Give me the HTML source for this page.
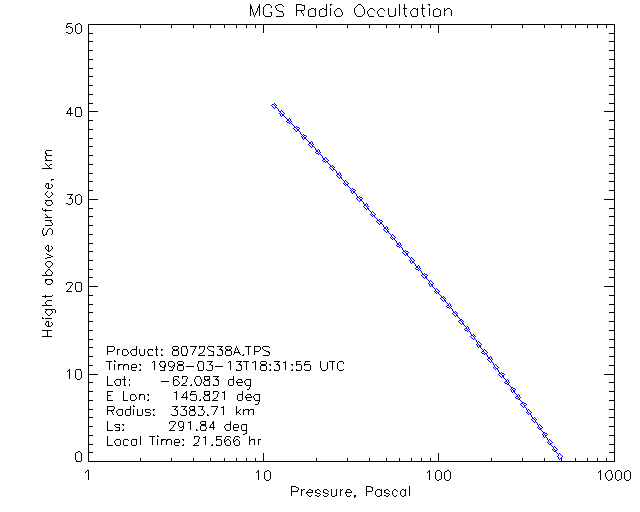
<!DOCTYPE html>
<html lang="en"><head><meta charset="utf-8"><title>MGS Radio Occultation</title>
<style>html,body{margin:0;padding:0;background:#fff;width:640px;height:512px;overflow:hidden;font-family:"Liberation Sans",sans-serif}svg{display:block}</style></head><body>
<svg width="640" height="512" viewBox="0 0 640 512" shape-rendering="crispEdges" role="img" aria-label="MGS Radio Occultation: height above surface versus pressure">
<rect width="640" height="512" fill="#fff"/>
<g id="axes" fill="#000"><title>Plot frame with log pressure axis (1-1000 Pa) and height axis (0-50 km)</title><path d="M88 24h527v1h-527zM88 25h1v8h-1zM140 25h1v3h-1zM171 25h1v3h-1zM193 25h1v3h-1zM210 25h1v3h-1zM224 25h1v3h-1zM236 25h1v3h-1zM246 25h1v3h-1zM255 25h1v3h-1zM263 25h1v8h-1zM316 25h1v3h-1zM347 25h1v3h-1zM369 25h1v3h-1zM386 25h1v3h-1zM399 25h1v3h-1zM411 25h1v3h-1zM421 25h1v3h-1zM430 25h1v3h-1zM438 25h1v8h-1zM491 25h1v3h-1zM522 25h1v3h-1zM544 25h1v3h-1zM561 25h1v3h-1zM575 25h1v3h-1zM587 25h1v3h-1zM597 25h1v3h-1zM606 25h1v3h-1zM614 25h1v8h-1zM88 33h5v1h-5zM609 33h6v1h-6zM88 34h1v7h-1zM614 34h1v7h-1zM88 41h5v1h-5zM609 41h6v1h-6zM88 42h1v8h-1zM614 42h1v8h-1zM88 50h5v1h-5zM609 50h6v1h-6zM88 51h1v8h-1zM614 51h1v8h-1zM88 59h5v1h-5zM609 59h6v1h-6zM88 60h1v8h-1zM614 60h1v8h-1zM88 68h5v1h-5zM609 68h6v1h-6zM88 69h1v7h-1zM614 69h1v7h-1zM88 76h5v1h-5zM609 76h6v1h-6zM88 77h1v8h-1zM614 77h1v8h-1zM88 85h5v1h-5zM609 85h6v1h-6zM88 86h1v8h-1zM614 86h1v8h-1zM88 94h5v1h-5zM609 94h6v1h-6zM88 95h1v8h-1zM614 95h1v8h-1zM88 103h5v1h-5zM609 103h6v1h-6zM88 104h1v7h-1zM614 104h1v7h-1zM88 111h10v1h-10zM604 111h11v1h-11zM88 112h1v8h-1zM614 112h1v8h-1zM88 120h5v1h-5zM609 120h6v1h-6zM88 121h1v8h-1zM614 121h1v8h-1zM88 129h5v1h-5zM609 129h6v1h-6zM88 130h1v8h-1zM614 130h1v8h-1zM88 138h5v1h-5zM609 138h6v1h-6zM88 139h1v7h-1zM614 139h1v7h-1zM88 146h5v1h-5zM609 146h6v1h-6zM88 147h1v8h-1zM614 147h1v8h-1zM88 155h5v1h-5zM609 155h6v1h-6zM88 156h1v8h-1zM614 156h1v8h-1zM88 164h5v1h-5zM609 164h6v1h-6zM88 165h1v8h-1zM614 165h1v8h-1zM88 173h5v1h-5zM609 173h6v1h-6zM88 174h1v7h-1zM614 174h1v7h-1zM88 181h5v1h-5zM609 181h6v1h-6zM88 182h1v8h-1zM614 182h1v8h-1zM88 190h5v1h-5zM609 190h6v1h-6zM88 191h1v8h-1zM614 191h1v8h-1zM88 199h10v1h-10zM604 199h11v1h-11zM88 200h1v8h-1zM614 200h1v8h-1zM88 208h5v1h-5zM609 208h6v1h-6zM88 209h1v7h-1zM614 209h1v7h-1zM88 216h5v1h-5zM609 216h6v1h-6zM88 217h1v8h-1zM614 217h1v8h-1zM88 225h5v1h-5zM609 225h6v1h-6zM88 226h1v8h-1zM614 226h1v8h-1zM88 234h5v1h-5zM609 234h6v1h-6zM88 235h1v8h-1zM614 235h1v8h-1zM88 243h5v1h-5zM609 243h6v1h-6zM88 244h1v7h-1zM614 244h1v7h-1zM88 251h5v1h-5zM609 251h6v1h-6zM88 252h1v8h-1zM614 252h1v8h-1zM88 260h5v1h-5zM609 260h6v1h-6zM88 261h1v8h-1zM614 261h1v8h-1zM88 269h5v1h-5zM609 269h6v1h-6zM88 270h1v7h-1zM614 270h1v7h-1zM88 277h5v1h-5zM609 277h6v1h-6zM88 278h1v8h-1zM614 278h1v8h-1zM88 286h10v1h-10zM604 286h11v1h-11zM88 287h1v8h-1zM614 287h1v8h-1zM88 295h5v1h-5zM609 295h6v1h-6zM88 296h1v8h-1zM614 296h1v8h-1zM88 304h5v1h-5zM609 304h6v1h-6zM88 305h1v7h-1zM614 305h1v7h-1zM88 312h5v1h-5zM609 312h6v1h-6zM88 313h1v8h-1zM614 313h1v8h-1zM88 321h5v1h-5zM609 321h6v1h-6zM88 322h1v8h-1zM614 322h1v8h-1zM88 330h5v1h-5zM609 330h6v1h-6zM88 331h1v8h-1zM614 331h1v8h-1zM88 339h5v1h-5zM609 339h6v1h-6zM88 340h1v7h-1zM614 340h1v7h-1zM88 347h5v1h-5zM609 347h6v1h-6zM88 348h1v8h-1zM614 348h1v8h-1zM88 356h5v1h-5zM609 356h6v1h-6zM88 357h1v8h-1zM614 357h1v8h-1zM88 365h5v1h-5zM609 365h6v1h-6zM88 366h1v8h-1zM614 366h1v8h-1zM88 374h10v1h-10zM604 374h11v1h-11zM88 375h1v7h-1zM614 375h1v7h-1zM88 382h5v1h-5zM609 382h6v1h-6zM88 383h1v8h-1zM614 383h1v8h-1zM88 391h5v1h-5zM609 391h6v1h-6zM88 392h1v8h-1zM614 392h1v8h-1zM88 400h5v1h-5zM609 400h6v1h-6zM88 401h1v8h-1zM614 401h1v8h-1zM88 409h5v1h-5zM609 409h6v1h-6zM88 410h1v7h-1zM614 410h1v7h-1zM88 417h5v1h-5zM609 417h6v1h-6zM88 418h1v8h-1zM614 418h1v8h-1zM88 426h5v1h-5zM609 426h6v1h-6zM88 427h1v8h-1zM614 427h1v8h-1zM88 435h5v1h-5zM609 435h6v1h-6zM88 436h1v8h-1zM614 436h1v8h-1zM88 444h5v1h-5zM609 444h6v1h-6zM88 445h1v7h-1zM614 445h1v7h-1zM88 452h5v1h-5zM609 452h6v1h-6zM88 453h1v8h-1zM263 453h1v8h-1zM438 453h1v8h-1zM614 453h1v8h-1zM140 458h1v3h-1zM171 458h1v3h-1zM193 458h1v3h-1zM210 458h1v3h-1zM224 458h1v3h-1zM236 458h1v3h-1zM246 458h1v3h-1zM255 458h1v3h-1zM316 458h1v3h-1zM347 458h1v3h-1zM369 458h1v3h-1zM386 458h1v3h-1zM399 458h1v3h-1zM411 458h1v3h-1zM421 458h1v3h-1zM430 458h1v3h-1zM491 458h1v3h-1zM522 458h1v3h-1zM544 458h1v3h-1zM561 458h1v3h-1zM575 458h1v3h-1zM587 458h1v3h-1zM597 458h1v3h-1zM606 458h1v3h-1zM88 461h527v1h-527z"/></g>
<g id="profile" fill="#00f"><title>Pressure profile (diamond markers)</title><path d="M274 103h1v1h-1zM272 104h2v1h-2zM275 104h1v1h-1zM271 105h1v1h-1zM274 105h1v1h-1zM276 105h1v1h-1zM272 106h1v1h-1zM275 106h1v1h-1zM273 107h1v1h-1zM275 107h2v1h-2zM274 108h1v1h-1zM277 108h1v1h-1zM278 109h1v2h-1zM281 110h1v1h-1zM279 111h2v1h-2zM282 111h1v1h-1zM280 112h1v1h-1zM283 112h1v1h-1zM279 113h1v1h-1zM281 113h1v1h-1zM284 113h1v1h-1zM280 114h1v2h-1zM282 114h2v2h-2zM281 116h1v1h-1zM284 116h1v1h-1zM285 117h1v1h-1zM286 118h1v1h-1zM289 118h1v1h-1zM287 119h2v2h-2zM290 119h1v2h-1zM286 121h1v1h-1zM289 121h1v1h-1zM291 121h1v1h-1zM287 122h2v1h-2zM290 122h1v1h-1zM289 123h1v1h-1zM291 123h1v1h-1zM292 124h1v1h-1zM293 125h1v1h-1zM294 126h1v1h-1zM296 126h1v1h-1zM294 127h2v1h-2zM297 127h2v1h-2zM293 128h1v1h-1zM296 128h1v1h-1zM299 128h1v1h-1zM294 129h1v1h-1zM297 129h2v2h-2zM295 130h1v1h-1zM296 131h1v1h-1zM299 131h1v1h-1zM300 132h1v2h-1zM301 134h1v1h-1zM303 134h1v1h-1zM302 135h1v1h-1zM304 135h2v1h-2zM301 136h1v1h-1zM303 136h1v1h-1zM306 136h1v1h-1zM302 137h1v2h-1zM304 137h2v2h-2zM303 139h1v1h-1zM306 139h1v1h-1zM307 140h1v1h-1zM308 141h1v1h-1zM311 141h1v1h-1zM309 142h2v2h-2zM312 142h1v2h-1zM308 144h1v1h-1zM311 144h1v1h-1zM313 144h1v1h-1zM309 145h1v1h-1zM312 145h1v1h-1zM310 146h1v1h-1zM312 146h2v1h-2zM311 147h1v1h-1zM314 147h1v1h-1zM315 148h1v2h-1zM318 149h1v1h-1zM316 150h2v2h-2zM319 150h1v2h-1zM315 152h1v1h-1zM318 152h1v1h-1zM320 152h1v1h-1zM316 153h2v1h-2zM319 153h1v1h-1zM318 154h1v1h-1zM320 154h1v1h-1zM321 155h1v1h-1zM322 156h1v2h-1zM325 157h1v1h-1zM323 158h2v2h-2zM326 158h1v1h-1zM327 159h1v1h-1zM322 160h1v1h-1zM325 160h1v1h-1zM328 160h1v1h-1zM323 161h2v1h-2zM326 161h2v1h-2zM325 162h1v1h-1zM327 162h1v1h-1zM328 163h1v1h-1zM329 164h1v1h-1zM330 165h1v1h-1zM332 165h1v1h-1zM330 166h2v1h-2zM333 166h1v1h-1zM329 167h1v1h-1zM332 167h1v1h-1zM334 167h1v1h-1zM330 168h1v1h-1zM333 168h1v1h-1zM331 169h1v1h-1zM333 169h2v1h-2zM332 170h1v1h-1zM335 170h1v1h-1zM336 171h1v2h-1zM339 172h1v1h-1zM337 173h2v2h-2zM340 173h1v2h-1zM336 175h1v1h-1zM339 175h1v1h-1zM341 175h1v1h-1zM337 176h1v1h-1zM340 176h1v1h-1zM338 177h1v1h-1zM340 177h2v1h-2zM339 178h1v1h-1zM341 178h1v1h-1zM342 179h1v1h-1zM343 180h1v1h-1zM345 180h1v1h-1zM344 181h1v2h-1zM346 181h1v1h-1zM347 182h1v1h-1zM343 183h1v1h-1zM345 183h1v1h-1zM348 183h1v1h-1zM344 184h1v1h-1zM346 184h2v1h-2zM345 185h1v1h-1zM347 185h1v1h-1zM348 186h1v1h-1zM349 187h1v1h-1zM350 188h1v1h-1zM352 188h1v1h-1zM351 189h1v1h-1zM353 189h2v1h-2zM350 190h1v1h-1zM352 190h1v1h-1zM355 190h1v1h-1zM351 191h1v2h-1zM353 191h2v2h-2zM352 193h1v1h-1zM355 193h1v1h-1zM356 194h1v2h-1zM357 196h1v1h-1zM359 196h1v1h-1zM357 197h2v1h-2zM360 197h2v1h-2zM356 198h1v1h-1zM359 198h1v1h-1zM362 198h1v1h-1zM357 199h1v1h-1zM360 199h2v2h-2zM358 200h1v1h-1zM359 201h1v1h-1zM362 201h1v1h-1zM363 202h1v2h-1zM366 203h1v1h-1zM364 204h2v2h-2zM367 204h1v2h-1zM363 206h1v1h-1zM366 206h1v1h-1zM368 206h1v1h-1zM364 207h1v1h-1zM367 207h1v1h-1zM365 208h1v1h-1zM367 208h2v1h-2zM366 209h1v1h-1zM368 209h1v1h-1zM369 210h1v1h-1zM370 211h1v1h-1zM372 211h1v1h-1zM371 212h1v2h-1zM373 212h1v1h-1zM374 213h1v1h-1zM370 214h1v1h-1zM372 214h1v1h-1zM375 214h1v1h-1zM371 215h1v1h-1zM373 215h2v1h-2zM372 216h1v1h-1zM374 216h1v1h-1zM375 217h1v1h-1zM376 218h1v1h-1zM377 219h1v1h-1zM379 219h1v1h-1zM377 220h2v1h-2zM380 220h2v1h-2zM376 221h1v1h-1zM379 221h1v1h-1zM382 221h1v1h-1zM377 222h1v1h-1zM380 222h2v2h-2zM378 223h1v1h-1zM379 224h1v1h-1zM382 224h1v1h-1zM383 225h1v2h-1zM386 226h1v1h-1zM384 227h2v2h-2zM387 227h1v2h-1zM383 229h1v1h-1zM386 229h1v1h-1zM388 229h1v1h-1zM384 230h1v1h-1zM387 230h1v1h-1zM385 231h1v1h-1zM387 231h2v1h-2zM386 232h1v1h-1zM388 232h1v1h-1zM389 233h1v1h-1zM390 234h1v1h-1zM392 234h1v1h-1zM391 235h1v2h-1zM393 235h1v1h-1zM394 236h1v1h-1zM390 237h1v1h-1zM392 237h1v1h-1zM395 237h1v1h-1zM391 238h1v1h-1zM393 238h2v1h-2zM392 239h1v1h-1zM394 239h1v1h-1zM395 240h1v1h-1zM396 241h1v2h-1zM399 242h1v1h-1zM397 243h2v2h-2zM400 243h1v2h-1zM396 245h1v1h-1zM399 245h1v1h-1zM401 245h1v1h-1zM397 246h2v1h-2zM400 246h1v1h-1zM399 247h1v1h-1zM401 247h1v1h-1zM402 248h1v2h-1zM403 250h1v1h-1zM405 250h1v1h-1zM403 251h2v1h-2zM406 251h2v1h-2zM402 252h1v1h-1zM405 252h1v1h-1zM408 252h1v1h-1zM403 253h1v1h-1zM406 253h2v2h-2zM404 254h1v1h-1zM405 255h1v1h-1zM407 255h1v1h-1zM408 256h1v1h-1zM409 257h1v1h-1zM411 257h1v1h-1zM410 258h1v2h-1zM412 258h1v1h-1zM413 259h1v1h-1zM409 260h1v1h-1zM411 260h1v1h-1zM414 260h1v1h-1zM410 261h1v2h-1zM412 261h2v2h-2zM411 263h1v1h-1zM414 263h1v1h-1zM415 264h1v2h-1zM418 265h1v1h-1zM416 266h2v2h-2zM419 266h1v2h-1zM415 268h1v1h-1zM418 268h1v1h-1zM420 268h1v1h-1zM416 269h2v1h-2zM419 269h1v1h-1zM418 270h1v1h-1zM420 270h1v1h-1zM421 271h1v2h-1zM422 273h1v1h-1zM424 273h1v1h-1zM422 274h2v1h-2zM425 274h2v1h-2zM421 275h1v1h-1zM424 275h1v1h-1zM427 275h1v1h-1zM422 276h1v1h-1zM425 276h2v2h-2zM423 277h1v1h-1zM424 278h1v1h-1zM426 278h1v1h-1zM427 279h1v1h-1zM428 280h1v1h-1zM430 280h1v1h-1zM429 281h1v2h-1zM431 281h1v1h-1zM432 282h1v1h-1zM428 283h1v1h-1zM430 283h1v1h-1zM433 283h1v1h-1zM429 284h1v2h-1zM431 284h2v2h-2zM430 286h1v1h-1zM432 286h1v1h-1zM433 287h1v1h-1zM434 288h1v1h-1zM436 288h1v1h-1zM435 289h1v2h-1zM437 289h1v1h-1zM438 290h1v1h-1zM434 291h1v1h-1zM436 291h1v1h-1zM439 291h1v1h-1zM435 292h1v1h-1zM437 292h2v1h-2zM436 293h1v1h-1zM438 293h1v1h-1zM439 294h1v1h-1zM440 295h1v1h-1zM441 296h1v1h-1zM443 296h1v1h-1zM441 297h2v1h-2zM444 297h1v1h-1zM440 298h1v1h-1zM443 298h1v1h-1zM445 298h1v1h-1zM441 299h1v1h-1zM444 299h1v1h-1zM442 300h1v1h-1zM444 300h2v1h-2zM443 301h1v1h-1zM445 301h1v1h-1zM446 302h1v1h-1zM447 303h1v1h-1zM449 303h1v1h-1zM448 304h1v1h-1zM450 304h1v2h-1zM447 305h2v1h-2zM446 306h1v1h-1zM449 306h1v1h-1zM451 306h1v1h-1zM447 307h2v1h-2zM450 307h1v1h-1zM449 308h1v1h-1zM451 308h1v1h-1zM452 309h1v2h-1zM453 311h1v1h-1zM455 311h1v1h-1zM453 312h2v1h-2zM456 312h1v1h-1zM452 313h1v1h-1zM455 313h1v1h-1zM457 313h1v1h-1zM453 314h1v1h-1zM456 314h1v1h-1zM454 315h1v1h-1zM456 315h2v1h-2zM455 316h1v1h-1zM457 316h1v1h-1zM458 317h1v1h-1zM459 318h1v1h-1zM460 319h2v1h-2zM459 320h2v1h-2zM462 320h1v1h-1zM458 321h1v1h-1zM461 321h1v1h-1zM463 321h1v1h-1zM459 322h1v1h-1zM462 322h1v1h-1zM460 323h1v1h-1zM462 323h2v1h-2zM461 324h1v1h-1zM463 324h1v1h-1zM464 325h1v1h-1zM465 326h1v1h-1zM467 326h1v1h-1zM466 327h1v1h-1zM468 327h1v2h-1zM465 328h2v1h-2zM464 329h1v1h-1zM467 329h1v1h-1zM469 329h1v1h-1zM465 330h2v1h-2zM468 330h1v1h-1zM467 331h1v1h-1zM469 331h1v1h-1zM470 332h1v2h-1zM471 334h1v1h-1zM473 334h1v1h-1zM471 335h2v1h-2zM474 335h1v1h-1zM470 336h1v1h-1zM473 336h1v1h-1zM475 336h1v1h-1zM471 337h1v1h-1zM474 337h1v2h-1zM472 338h1v1h-1zM473 339h1v1h-1zM475 339h1v1h-1zM476 340h1v2h-1zM478 341h1v1h-1zM477 342h1v2h-1zM479 342h1v1h-1zM480 343h1v1h-1zM476 344h1v1h-1zM478 344h1v1h-1zM481 344h1v1h-1zM477 345h1v2h-1zM479 345h2v2h-2zM478 347h1v1h-1zM480 347h1v1h-1zM481 348h1v1h-1zM482 349h1v1h-1zM484 349h1v1h-1zM483 350h1v1h-1zM485 350h1v1h-1zM482 351h2v1h-2zM486 351h1v1h-1zM481 352h1v1h-1zM484 352h1v1h-1zM487 352h1v1h-1zM482 353h2v1h-2zM485 353h2v1h-2zM484 354h1v1h-1zM486 354h1v1h-1zM487 355h1v2h-1zM490 356h1v1h-1zM488 357h2v2h-2zM491 357h1v2h-1zM487 359h1v1h-1zM490 359h1v1h-1zM492 359h1v1h-1zM488 360h1v1h-1zM491 360h1v2h-1zM489 361h1v1h-1zM490 362h1v1h-1zM492 362h1v1h-1zM493 363h1v2h-1zM495 364h1v1h-1zM494 365h1v2h-1zM496 365h1v1h-1zM497 366h1v1h-1zM493 367h1v1h-1zM495 367h1v1h-1zM498 367h1v1h-1zM494 368h1v1h-1zM496 368h2v1h-2zM495 369h1v1h-1zM497 369h1v1h-1zM498 370h1v2h-1zM499 372h1v1h-1zM501 372h1v1h-1zM499 373h2v1h-2zM502 373h2v1h-2zM498 374h1v1h-1zM501 374h1v1h-1zM504 374h1v1h-1zM499 375h1v1h-1zM502 375h2v2h-2zM500 376h1v1h-1zM501 377h1v1h-1zM503 377h1v1h-1zM504 378h1v1h-1zM505 379h1v1h-1zM507 379h1v1h-1zM506 380h1v1h-1zM508 380h1v2h-1zM505 381h2v1h-2zM504 382h1v1h-1zM507 382h1v1h-1zM509 382h1v1h-1zM505 383h2v1h-2zM508 383h1v1h-1zM507 384h2v1h-2zM509 385h1v1h-1zM510 386h1v1h-1zM511 387h2v1h-2zM511 388h1v1h-1zM513 388h2v1h-2zM510 389h1v1h-1zM512 389h1v1h-1zM515 389h1v1h-1zM511 390h1v2h-1zM513 390h2v2h-2zM512 392h1v1h-1zM514 392h1v1h-1zM515 393h1v1h-1zM516 394h1v1h-1zM518 394h1v1h-1zM517 395h1v1h-1zM519 395h1v2h-1zM516 396h2v1h-2zM515 397h1v1h-1zM518 397h1v1h-1zM520 397h1v1h-1zM516 398h2v1h-2zM519 398h1v1h-1zM518 399h2v1h-2zM520 400h1v1h-1zM521 401h1v1h-1zM522 402h2v1h-2zM521 403h2v1h-2zM524 403h2v1h-2zM520 404h1v1h-1zM523 404h1v1h-1zM526 404h1v1h-1zM521 405h1v1h-1zM524 405h2v1h-2zM522 406h1v1h-1zM524 406h1v1h-1zM523 407h1v1h-1zM525 407h1v1h-1zM526 408h1v2h-1zM528 409h1v1h-1zM527 410h1v2h-1zM529 410h1v1h-1zM530 411h1v1h-1zM526 412h1v1h-1zM528 412h1v1h-1zM531 412h1v1h-1zM527 413h1v1h-1zM529 413h2v1h-2zM528 414h1v1h-1zM530 414h1v1h-1zM531 415h1v2h-1zM532 417h1v1h-1zM534 417h1v1h-1zM532 418h2v1h-2zM535 418h1v1h-1zM531 419h1v1h-1zM534 419h1v1h-1zM536 419h1v1h-1zM532 420h1v1h-1zM535 420h1v2h-1zM533 421h1v1h-1zM534 422h1v1h-1zM536 422h1v1h-1zM537 423h1v2h-1zM539 424h1v1h-1zM538 425h1v2h-1zM540 425h1v1h-1zM541 426h1v1h-1zM537 427h1v1h-1zM539 427h1v1h-1zM542 427h1v1h-1zM538 428h1v1h-1zM540 428h2v1h-2zM539 429h2v1h-2zM541 430h1v1h-1zM542 431h1v1h-1zM543 432h2v1h-2zM543 433h1v1h-1zM545 433h2v1h-2zM542 434h1v1h-1zM544 434h1v1h-1zM547 434h1v1h-1zM543 435h1v2h-1zM545 435h2v1h-2zM545 436h1v1h-1zM544 437h1v1h-1zM546 437h1v1h-1zM547 438h1v2h-1zM549 439h1v1h-1zM548 440h1v2h-1zM550 440h1v1h-1zM551 441h1v1h-1zM547 442h1v1h-1zM549 442h1v1h-1zM552 442h1v1h-1zM548 443h1v1h-1zM550 443h2v1h-2zM549 444h2v1h-2zM551 445h1v1h-1zM552 446h1v1h-1zM554 446h1v1h-1zM553 447h1v2h-1zM555 447h1v1h-1zM556 448h1v1h-1zM552 449h1v1h-1zM554 449h1v1h-1zM557 449h1v1h-1zM553 450h1v1h-1zM555 450h2v1h-2zM554 451h2v1h-2zM556 452h1v1h-1zM557 453h1v1h-1zM559 453h1v1h-1zM558 454h1v2h-1zM560 454h1v1h-1zM561 455h1v1h-1zM557 456h1v1h-1zM562 456h1v1h-1zM558 457h1v2h-1zM561 457h1v1h-1zM560 458h1v1h-1zM559 459h1v1h-1z"/></g>
<g id="title" fill="#000"><title>MGS Radio Occultation</title><path d="M250 4h1v2h-1zM259 4h1v2h-1zM266 4h4v1h-4zM278 4h4v1h-4zM296 4h6v1h-6zM326 4h1v5h-1zM330 4h2v1h-2zM358 4h3v1h-3zM399 4h1v12h-1zM404 4h1v4h-1zM422 4h1v4h-1zM428 4h2v1h-2zM265 5h1v1h-1zM270 5h1v1h-1zM276 5h2v1h-2zM282 5h1v1h-1zM296 5h1v5h-1zM302 5h3v1h-3zM330 5h1v1h-1zM357 5h1v1h-1zM361 5h1v1h-1zM429 5h1v1h-1zM250 6h2v3h-2zM258 6h2v2h-2zM264 6h1v1h-1zM271 6h1v2h-1zM275 6h1v2h-1zM283 6h1v1h-1zM304 6h1v4h-1zM356 6h1v1h-1zM362 6h1v1h-1zM263 7h1v8h-1zM355 7h1v1h-1zM363 7h1v2h-1zM257 8h1v3h-1zM259 8h1v8h-1zM276 8h1v2h-1zM311 8h3v1h-3zM315 8h1v1h-1zM322 8h2v1h-2zM330 8h1v8h-1zM337 8h3v1h-3zM354 8h1v5h-1zM370 8h3v1h-3zM380 8h3v1h-3zM388 8h1v7h-1zM395 8h1v7h-1zM403 8h4v1h-4zM413 8h3v1h-3zM417 8h1v1h-1zM421 8h4v1h-4zM429 8h1v8h-1zM436 8h2v1h-2zM444 8h1v2h-1zM447 8h3v1h-3zM250 9h1v7h-1zM252 9h1v3h-1zM309 9h2v1h-2zM314 9h2v1h-2zM320 9h2v1h-2zM324 9h3v1h-3zM336 9h1v1h-1zM340 9h1v1h-1zM364 9h1v5h-1zM369 9h1v1h-1zM373 9h1v1h-1zM379 9h1v1h-1zM383 9h1v1h-1zM404 9h1v6h-1zM412 9h1v1h-1zM416 9h2v1h-2zM422 9h1v6h-1zM434 9h2v1h-2zM438 9h2v1h-2zM446 9h1v1h-1zM450 9h1v1h-1zM277 10h2v1h-2zM296 10h8v1h-8zM308 10h1v6h-1zM315 10h1v6h-1zM319 10h1v6h-1zM326 10h1v5h-1zM335 10h1v1h-1zM341 10h1v2h-1zM368 10h1v1h-1zM374 10h1v1h-1zM378 10h1v1h-1zM384 10h1v1h-1zM411 10h1v1h-1zM417 10h1v6h-1zM433 10h1v6h-1zM440 10h1v5h-1zM444 10h2v1h-2zM451 10h1v6h-1zM256 11h1v2h-1zM279 11h4v1h-4zM296 11h1v5h-1zM301 11h1v2h-1zM334 11h1v3h-1zM367 11h1v3h-1zM377 11h1v3h-1zM410 11h1v3h-1zM444 11h1v5h-1zM253 12h1v3h-1zM270 12h2v1h-2zM282 12h1v1h-1zM342 12h1v3h-1zM255 13h1v2h-1zM271 13h1v3h-1zM283 13h1v3h-1zM302 13h1v1h-1zM355 13h1v2h-1zM303 14h1v2h-1zM335 14h1v2h-1zM363 14h1v1h-1zM368 14h1v2h-1zM378 14h1v2h-1zM411 14h1v2h-1zM254 15h1v2h-1zM264 15h1v1h-1zM325 15h2v1h-2zM341 15h1v1h-1zM356 15h1v1h-1zM362 15h1v1h-1zM389 15h1v1h-1zM394 15h2v1h-2zM405 15h1v1h-1zM423 15h1v1h-1zM439 15h2v1h-2zM265 16h6v1h-6zM276 16h7v1h-7zM309 16h6v1h-6zM320 16h5v1h-5zM336 16h5v1h-5zM357 16h5v1h-5zM369 16h5v1h-5zM379 16h5v1h-5zM389 16h5v1h-5zM405 16h2v1h-2zM412 16h5v1h-5zM423 16h2v1h-2zM434 16h5v1h-5z"/></g>
<g id="xtitle" fill="#000"><title>Pressure, Pascal</title><path d="M291 486h5v1h-5zM366 486h5v1h-5zM409 486h1v10h-1zM291 487h1v4h-1zM296 487h2v1h-2zM366 487h1v4h-1zM371 487h2v1h-2zM298 488h1v2h-1zM372 488h1v3h-1zM301 489h1v1h-1zM303 489h2v1h-2zM309 489h2v1h-2zM317 489h2v1h-2zM324 489h3v1h-3zM331 489h1v7h-1zM336 489h1v6h-1zM340 489h1v1h-1zM342 489h1v1h-1zM347 489h3v1h-3zM377 489h3v1h-3zM381 489h1v1h-1zM386 489h2v1h-2zM394 489h2v1h-2zM402 489h2v1h-2zM405 489h1v1h-1zM297 490h1v1h-1zM301 490h2v1h-2zM308 490h1v1h-1zM311 490h2v1h-2zM315 490h2v1h-2zM319 490h1v1h-1zM323 490h1v2h-1zM327 490h1v1h-1zM340 490h2v1h-2zM346 490h1v2h-1zM350 490h1v1h-1zM376 490h1v1h-1zM380 490h2v1h-2zM384 490h2v1h-2zM388 490h1v1h-1zM393 490h1v1h-1zM396 490h1v1h-1zM401 490h1v1h-1zM404 490h2v1h-2zM291 491h7v1h-7zM301 491h1v5h-1zM307 491h1v1h-1zM312 491h1v1h-1zM315 491h1v1h-1zM320 491h1v1h-1zM328 491h1v1h-1zM340 491h1v5h-1zM351 491h1v1h-1zM366 491h6v1h-6zM375 491h1v4h-1zM381 491h1v4h-1zM384 491h1v1h-1zM389 491h1v1h-1zM392 491h1v4h-1zM397 491h1v1h-1zM400 491h1v4h-1zM405 491h1v4h-1zM291 492h1v4h-1zM306 492h7v1h-7zM315 492h2v1h-2zM323 492h2v1h-2zM345 492h7v1h-7zM366 492h1v4h-1zM384 492h2v1h-2zM306 493h1v1h-1zM317 493h3v1h-3zM325 493h3v1h-3zM345 493h1v1h-1zM386 493h3v1h-3zM307 494h1v1h-1zM320 494h1v1h-1zM328 494h1v1h-1zM346 494h1v2h-1zM389 494h1v1h-1zM308 495h1v1h-1zM311 495h1v1h-1zM315 495h2v1h-2zM319 495h1v1h-1zM323 495h1v1h-1zM327 495h1v1h-1zM335 495h2v1h-2zM350 495h1v1h-1zM354 495h2v2h-2zM376 495h1v1h-1zM380 495h2v1h-2zM384 495h2v1h-2zM388 495h1v1h-1zM393 495h1v1h-1zM396 495h1v1h-1zM401 495h1v1h-1zM404 495h2v1h-2zM309 496h2v1h-2zM317 496h2v1h-2zM324 496h3v1h-3zM332 496h3v1h-3zM347 496h3v1h-3zM377 496h3v1h-3zM386 496h2v1h-2zM394 496h2v1h-2zM402 496h2v1h-2zM354 497h1v1h-1z"/></g>
<g id="ytitle" fill="#000"><title>Height above Surface, km</title><path d="M46 150h6v1h-6zM45 151h1v2h-1zM45 153h2v1h-2zM46 154h1v1h-1zM46 155h6v1h-6zM45 156h1v3h-1zM46 159h1v1h-1zM45 160h7v1h-7zM45 163h1v1h-1zM46 164h1v1h-1zM50 164h2v1h-2zM47 165h1v1h-1zM49 165h1v1h-1zM48 166h1v1h-1zM49 167h1v1h-1zM42 168h10v1h-10zM51 179h3v1h-3zM51 180h1v1h-1zM46 183h3v1h-3zM46 184h1v1h-1zM48 184h1v4h-1zM51 184h1v1h-1zM45 185h1v2h-1zM52 185h1v2h-1zM46 187h1v1h-1zM51 187h1v1h-1zM47 188h4v1h-4zM47 191h1v1h-1zM46 192h1v1h-1zM51 192h1v1h-1zM45 193h1v2h-1zM52 193h1v2h-1zM46 195h1v1h-1zM51 195h1v1h-1zM47 196h1v1h-1zM50 196h1v1h-1zM48 197h2v1h-2zM45 200h7v1h-7zM46 201h1v1h-1zM51 201h1v1h-1zM45 202h1v2h-1zM52 202h1v2h-1zM46 204h1v1h-1zM51 204h1v1h-1zM47 205h4v1h-4zM42 208h1v2h-1zM45 209h1v1h-1zM43 210h9v1h-9zM45 211h1v1h-1zM45 214h1v1h-1zM46 215h1v1h-1zM47 216h1v1h-1zM45 217h7v1h-7zM45 220h7v1h-7zM50 221h1v1h-1zM51 222h1v1h-1zM52 223h1v2h-1zM45 225h7v1h-7zM43 228h1v2h-1zM49 228h2v1h-2zM48 229h1v1h-1zM51 229h1v1h-1zM42 230h1v4h-1zM47 230h1v2h-1zM52 230h1v4h-1zM46 232h1v2h-1zM43 234h1v1h-1zM45 234h2v1h-2zM51 234h1v1h-1zM43 235h2v1h-2zM47 245h2v1h-2zM46 246h1v1h-1zM48 246h1v4h-1zM51 246h1v1h-1zM45 247h1v2h-1zM52 247h1v2h-1zM46 249h1v1h-1zM51 249h1v1h-1zM47 250h2v1h-2zM50 250h1v1h-1zM48 251h2v1h-2zM46 253h1v1h-1zM47 254h2v1h-2zM49 255h2v1h-2zM51 256h2v1h-2zM47 257h4v1h-4zM45 258h2v1h-2zM47 261h4v1h-4zM46 262h1v1h-1zM51 262h1v1h-1zM45 263h1v2h-1zM52 263h1v2h-1zM46 265h1v1h-1zM51 265h1v1h-1zM47 266h1v1h-1zM50 266h1v1h-1zM48 267h2v1h-2zM48 269h2v1h-2zM47 270h1v1h-1zM50 270h1v1h-1zM46 271h1v1h-1zM51 271h1v1h-1zM45 272h1v2h-1zM52 272h1v2h-1zM46 274h1v1h-1zM51 274h1v1h-1zM42 275h10v1h-10zM45 279h7v1h-7zM45 280h2v1h-2zM51 280h2v1h-2zM45 281h1v2h-1zM52 281h1v2h-1zM46 283h1v1h-1zM51 283h1v1h-1zM47 284h4v1h-4zM45 295h1v1h-1zM52 295h1v1h-1zM42 296h10v1h-10zM45 297h1v1h-1zM47 300h5v1h-5zM46 301h1v1h-1zM45 302h1v2h-1zM46 304h1v1h-1zM42 305h10v1h-10zM45 309h10v1h-10zM46 310h1v1h-1zM51 310h1v1h-1zM55 310h1v3h-1zM45 311h1v2h-1zM52 311h1v2h-1zM46 313h1v1h-1zM51 313h1v1h-1zM47 314h1v1h-1zM50 314h1v1h-1zM48 315h2v1h-2zM42 317h1v1h-1zM42 318h2v1h-2zM45 318h7v1h-7zM46 321h3v1h-3zM46 322h1v1h-1zM48 322h1v4h-1zM51 322h1v1h-1zM45 323h1v2h-1zM52 323h1v2h-1zM46 325h1v1h-1zM51 325h1v1h-1zM47 326h4v1h-4zM42 330h10v1h-10zM47 331h1v5h-1zM42 336h10v1h-10z"/></g>
<g id="yticklabels" fill="#000"><title>50 40 30 20 10 0</title><path d="M67 23h5v1h-5zM78 23h2v1h-2zM67 24h1v1h-1zM76 24h2v1h-2zM80 24h1v1h-1zM66 25h1v2h-1zM75 25h1v7h-1zM81 25h1v7h-1zM68 26h2v1h-2zM66 27h2v1h-2zM70 27h2v1h-2zM72 28h1v4h-1zM66 32h2v1h-2zM71 32h1v1h-1zM76 32h1v1h-1zM80 32h1v1h-1zM68 33h3v1h-3zM77 33h3v1h-3zM70 107h1v1h-1zM76 107h5v1h-5zM69 108h2v2h-2zM75 108h1v8h-1zM80 108h1v1h-1zM81 109h1v7h-1zM68 110h1v1h-1zM70 110h1v3h-1zM67 111h1v2h-1zM66 113h7v1h-7zM70 114h1v2h-1zM76 116h5v1h-5zM67 194h6v1h-6zM78 194h2v1h-2zM71 195h1v1h-1zM76 195h2v1h-2zM80 195h1v1h-1zM70 196h1v2h-1zM75 196h1v7h-1zM81 196h1v7h-1zM69 198h3v1h-3zM72 199h1v4h-1zM66 203h2v1h-2zM71 203h1v1h-1zM76 203h1v1h-1zM80 203h1v1h-1zM68 204h3v1h-3zM77 204h3v1h-3zM67 282h5v1h-5zM76 282h5v1h-5zM66 283h1v2h-1zM72 283h1v2h-1zM75 283h1v7h-1zM81 283h1v8h-1zM71 285h1v1h-1zM70 286h1v2h-1zM69 288h1v1h-1zM68 289h1v1h-1zM67 290h1v1h-1zM76 290h1v1h-1zM66 291h6v1h-6zM76 291h5v1h-5zM69 369h1v1h-1zM76 369h5v1h-5zM68 370h2v1h-2zM75 370h1v8h-1zM80 370h1v1h-1zM67 371h1v1h-1zM69 371h1v8h-1zM81 371h1v7h-1zM76 378h1v1h-1zM80 378h1v1h-1zM77 379h3v1h-3zM78 451h2v1h-2zM76 452h2v1h-2zM80 452h1v1h-1zM75 453h1v7h-1zM81 453h1v8h-1zM76 460h1v1h-1zM76 461h5v1h-5z"/></g>
<g id="xticklabels" fill="#000"><title>1 10 100 1000</title><path d="M87 470h2v1h-2zM258 470h1v1h-1zM267 470h2v1h-2zM429 470h1v1h-1zM437 470h3v1h-3zM447 470h2v1h-2zM600 470h1v1h-1zM608 470h3v1h-3zM617 470h3v1h-3zM627 470h2v1h-2zM86 471h1v1h-1zM88 471h1v9h-1zM257 471h2v1h-2zM265 471h2v1h-2zM269 471h1v1h-1zM428 471h2v1h-2zM436 471h1v1h-1zM440 471h1v1h-1zM445 471h2v1h-2zM449 471h1v1h-1zM599 471h2v1h-2zM607 471h1v1h-1zM611 471h1v3h-1zM616 471h1v1h-1zM620 471h1v1h-1zM625 471h2v1h-2zM629 471h1v1h-1zM85 472h1v1h-1zM256 472h1v1h-1zM258 472h1v8h-1zM264 472h1v7h-1zM270 472h1v7h-1zM427 472h1v1h-1zM429 472h1v8h-1zM435 472h1v7h-1zM441 472h1v7h-1zM444 472h1v7h-1zM450 472h1v7h-1zM598 472h1v1h-1zM600 472h1v8h-1zM606 472h1v1h-1zM615 472h1v7h-1zM621 472h1v7h-1zM624 472h1v7h-1zM630 472h1v7h-1zM605 473h1v4h-1zM612 474h1v4h-1zM606 477h1v2h-1zM611 478h1v1h-1zM265 479h1v1h-1zM269 479h1v1h-1zM436 479h1v1h-1zM439 479h2v1h-2zM445 479h1v1h-1zM449 479h1v1h-1zM607 479h1v1h-1zM610 479h2v1h-2zM616 479h1v1h-1zM619 479h2v1h-2zM625 479h1v1h-1zM629 479h1v1h-1zM266 480h3v1h-3zM437 480h2v1h-2zM446 480h3v1h-3zM608 480h2v1h-2zM617 480h2v1h-2zM626 480h3v1h-3z"/></g>
<g id="info1" fill="#000"><title>Product: 8072S38A.TPS</title><path d="M107 346h7v1h-7zM136 346h1v3h-1zM156 346h1v3h-1zM173 346h5v1h-5zM182 346h5v1h-5zM190 346h7v1h-7zM199 346h6v1h-6zM208 346h6v1h-6zM217 346h6v1h-6zM226 346h5v1h-5zM236 346h1v2h-1zM245 346h6v1h-6zM254 346h6v1h-6zM263 346h6v1h-6zM107 347h1v4h-1zM114 347h1v3h-1zM172 347h1v2h-1zM178 347h1v2h-1zM181 347h1v7h-1zM186 347h1v2h-1zM195 347h1v2h-1zM199 347h1v2h-1zM204 347h1v3h-1zM207 347h1v2h-1zM213 347h1v1h-1zM221 347h1v1h-1zM225 347h1v2h-1zM231 347h1v2h-1zM248 347h1v8h-1zM254 347h1v4h-1zM260 347h1v3h-1zM262 347h1v2h-1zM269 347h1v1h-1zM220 348h1v1h-1zM235 348h1v3h-1zM237 348h1v2h-1zM117 349h3v1h-3zM123 349h4v1h-4zM132 349h5v1h-5zM139 349h1v5h-1zM144 349h1v6h-1zM148 349h5v1h-5zM155 349h3v1h-3zM161 349h2v1h-2zM173 349h2v1h-2zM176 349h2v1h-2zM187 349h1v4h-1zM194 349h1v2h-1zM208 349h1v1h-1zM219 349h3v1h-3zM226 349h2v1h-2zM229 349h2v1h-2zM263 349h1v1h-1zM113 350h1v1h-1zM117 350h1v5h-1zM122 350h1v5h-1zM127 350h1v2h-1zM131 350h1v1h-1zM136 350h1v5h-1zM148 350h1v1h-1zM152 350h1v1h-1zM156 350h1v5h-1zM161 350h1v1h-1zM173 350h5v1h-5zM203 350h1v2h-1zM209 350h2v1h-2zM221 350h2v1h-2zM226 350h5v1h-5zM238 350h1v2h-1zM259 350h1v1h-1zM264 350h2v1h-2zM107 351h6v1h-6zM130 351h1v2h-1zM147 351h1v2h-1zM172 351h1v4h-1zM178 351h1v4h-1zM193 351h1v2h-1zM211 351h3v1h-3zM222 351h1v4h-1zM225 351h1v4h-1zM231 351h1v4h-1zM234 351h1v1h-1zM254 351h5v1h-5zM266 351h3v1h-3zM107 352h1v3h-1zM128 352h1v2h-1zM202 352h1v1h-1zM213 352h1v3h-1zM234 352h6v1h-6zM254 352h1v3h-1zM268 352h2v1h-2zM131 353h1v2h-1zM148 353h1v2h-1zM186 353h1v2h-1zM192 353h1v2h-1zM200 353h2v1h-2zM234 353h1v1h-1zM239 353h1v1h-1zM269 353h1v2h-1zM127 354h1v1h-1zM140 354h1v1h-1zM161 354h1v1h-1zM182 354h1v1h-1zM199 354h1v1h-1zM217 354h1v1h-1zM233 354h1v1h-1zM240 354h1v1h-1zM243 354h1v1h-1zM123 355h4v1h-4zM132 355h4v1h-4zM140 355h4v1h-4zM148 355h5v1h-5zM156 355h2v1h-2zM161 355h2v1h-2zM173 355h5v1h-5zM182 355h5v1h-5zM198 355h7v1h-7zM208 355h6v1h-6zM217 355h5v1h-5zM226 355h5v1h-5zM242 355h2v1h-2zM263 355h6v1h-6z"/></g>
<g id="info2" fill="#000"><title>Time: 1998-03-13T18:31:55 UTC</title><path d="M114 360h1v1h-1zM106 361h6v1h-6zM114 361h2v1h-2zM153 361h2v1h-2zM160 361h5v1h-5zM169 361h4v1h-4zM178 361h5v1h-5zM198 361h5v1h-5zM207 361h6v1h-6zM229 361h2v1h-2zM236 361h6v1h-6zM243 361h6v1h-6zM254 361h2v1h-2zM261 361h5v1h-5zM274 361h6v1h-6zM285 361h1v1h-1zM296 361h5v1h-5zM305 361h5v1h-5zM320 361h1v7h-1zM329 361h6v1h-6zM339 361h4v1h-4zM109 362h1v8h-1zM152 362h1v1h-1zM154 362h1v8h-1zM160 362h1v1h-1zM164 362h1v1h-1zM168 362h1v4h-1zM173 362h1v1h-1zM177 362h1v2h-1zM183 362h1v2h-1zM198 362h1v2h-1zM203 362h1v8h-1zM211 362h1v1h-1zM228 362h1v1h-1zM230 362h1v8h-1zM240 362h1v1h-1zM246 362h1v8h-1zM252 362h2v1h-2zM255 362h1v8h-1zM260 362h1v2h-1zM266 362h1v2h-1zM278 362h1v1h-1zM283 362h3v1h-3zM296 362h1v2h-1zM305 362h1v1h-1zM327 362h1v7h-1zM332 362h1v8h-1zM338 362h1v1h-1zM343 362h1v2h-1zM159 363h1v2h-1zM165 363h1v2h-1zM174 363h1v2h-1zM210 363h1v1h-1zM239 363h1v1h-1zM277 363h1v1h-1zM285 363h1v7h-1zM304 363h1v1h-1zM337 363h1v6h-1zM114 364h1v6h-1zM118 364h5v1h-5zM124 364h4v1h-4zM132 364h4v1h-4zM139 364h2v1h-2zM178 364h5v2h-5zM197 364h1v3h-1zM209 364h2v1h-2zM238 364h3v1h-3zM261 364h5v2h-5zM269 364h2v1h-2zM276 364h3v1h-3zM291 364h2v1h-2zM296 364h5v1h-5zM304 364h6v1h-6zM118 365h2v1h-2zM123 365h2v1h-2zM128 365h1v5h-1zM131 365h1v2h-1zM136 365h1v2h-1zM140 365h1v1h-1zM160 365h1v1h-1zM164 365h2v2h-2zM173 365h2v1h-2zM211 365h2v1h-2zM240 365h2v1h-2zM270 365h1v1h-1zM278 365h2v1h-2zM292 365h1v1h-1zM296 365h1v1h-1zM301 365h1v5h-1zM304 365h1v1h-1zM310 365h1v5h-1zM118 366h1v4h-1zM123 366h1v4h-1zM160 366h2v1h-2zM169 366h2v1h-2zM172 366h1v1h-1zM174 366h1v1h-1zM177 366h1v4h-1zM183 366h1v4h-1zM186 366h8v1h-8zM212 366h1v4h-1zM215 366h8v1h-8zM241 366h1v4h-1zM260 366h1v4h-1zM266 366h1v4h-1zM279 366h1v4h-1zM131 367h6v1h-6zM162 367h3v1h-3zM171 367h1v1h-1zM173 367h1v2h-1zM198 367h1v3h-1zM131 368h1v2h-1zM164 368h1v2h-1zM321 368h1v2h-1zM140 369h1v1h-1zM172 369h1v1h-1zM206 369h1v1h-1zM236 369h1v1h-1zM270 369h1v1h-1zM274 369h1v1h-1zM292 369h1v1h-1zM296 369h1v1h-1zM304 369h1v1h-1zM326 369h1v1h-1zM338 369h1v1h-1zM343 369h1v1h-1zM132 370h4v1h-4zM139 370h2v1h-2zM160 370h5v1h-5zM169 370h4v1h-4zM178 370h5v1h-5zM198 370h5v1h-5zM207 370h5v1h-5zM236 370h5v1h-5zM261 370h5v1h-5zM269 370h2v1h-2zM274 370h5v1h-5zM291 370h2v1h-2zM296 370h5v1h-5zM305 370h5v1h-5zM322 370h4v1h-4zM339 370h4v1h-4z"/></g>
<g id="info3" fill="#000"><title>Lat: -62.083 deg</title><path d="M107 376h1v9h-1zM124 376h1v3h-1zM174 376h5v1h-5zM182 376h5v1h-5zM196 376h4v1h-4zM204 376h6v1h-6zM213 376h6v1h-6zM233 376h1v3h-1zM173 377h1v3h-1zM178 377h1v1h-1zM182 377h1v2h-1zM187 377h1v2h-1zM195 377h1v2h-1zM200 377h1v2h-1zM204 377h1v2h-1zM209 377h1v2h-1zM217 377h1v1h-1zM216 378h1v1h-1zM116 379h5v1h-5zM122 379h4v1h-4zM129 379h1v2h-1zM175 379h2v1h-2zM186 379h1v3h-1zM194 379h1v3h-1zM201 379h1v4h-1zM204 379h2v1h-2zM207 379h3v1h-3zM215 379h3v1h-3zM229 379h5v1h-5zM238 379h4v1h-4zM246 379h5v1h-5zM115 380h1v1h-1zM120 380h1v5h-1zM124 380h1v5h-1zM173 380h2v1h-2zM177 380h1v1h-1zM205 380h4v1h-4zM217 380h2v1h-2zM228 380h1v5h-1zM233 380h1v5h-1zM237 380h1v1h-1zM241 380h1v1h-1zM245 380h1v1h-1zM250 380h1v5h-1zM114 381h1v2h-1zM161 381h8v1h-8zM173 381h1v4h-1zM178 381h1v1h-1zM204 381h1v1h-1zM209 381h1v4h-1zM218 381h1v4h-1zM236 381h1v1h-1zM242 381h1v1h-1zM244 381h1v2h-1zM179 382h1v2h-1zM185 382h1v1h-1zM195 382h1v2h-1zM203 382h1v2h-1zM236 382h7v1h-7zM115 383h1v2h-1zM183 383h2v1h-2zM200 383h1v2h-1zM237 383h1v2h-1zM245 383h1v2h-1zM129 384h1v2h-1zM178 384h1v1h-1zM182 384h1v1h-1zM191 384h1v1h-1zM196 384h1v1h-1zM204 384h1v1h-1zM213 384h1v1h-1zM107 385h6v1h-6zM116 385h4v1h-4zM124 385h2v1h-2zM174 385h4v1h-4zM181 385h6v1h-6zM190 385h2v1h-2zM196 385h4v1h-4zM204 385h6v1h-6zM213 385h5v1h-5zM229 385h4v1h-4zM238 385h4v1h-4zM246 385h5v1h-5zM250 386h1v1h-1zM249 387h1v2h-1zM247 389h2v1h-2z"/></g>
<g id="info4" fill="#000"><title>E Lon: 145.821 deg</title><path d="M107 391h6v1h-6zM123 391h1v9h-1zM176 391h1v1h-1zM186 391h1v1h-1zM191 391h5v1h-5zM204 391h6v1h-6zM213 391h5v1h-5zM224 391h1v1h-1zM242 391h1v3h-1zM107 392h1v3h-1zM174 392h3v1h-3zM185 392h2v1h-2zM191 392h1v1h-1zM204 392h1v2h-1zM209 392h1v2h-1zM213 392h1v2h-1zM218 392h1v2h-1zM222 392h3v1h-3zM176 393h1v7h-1zM184 393h1v1h-1zM186 393h1v4h-1zM190 393h1v1h-1zM224 393h1v7h-1zM131 394h4v1h-4zM139 394h5v1h-5zM147 394h2v1h-2zM183 394h1v2h-1zM190 394h6v1h-6zM204 394h2v1h-2zM207 394h3v1h-3zM217 394h1v3h-1zM238 394h5v1h-5zM247 394h4v1h-4zM255 394h5v1h-5zM107 395h4v1h-4zM130 395h1v5h-1zM135 395h1v2h-1zM139 395h2v1h-2zM144 395h1v5h-1zM148 395h1v1h-1zM190 395h1v1h-1zM196 395h1v5h-1zM205 395h4v1h-4zM237 395h1v5h-1zM242 395h1v5h-1zM246 395h1v1h-1zM250 395h1v1h-1zM254 395h1v1h-1zM259 395h1v5h-1zM107 396h1v4h-1zM139 396h1v4h-1zM182 396h1v1h-1zM204 396h1v1h-1zM209 396h1v4h-1zM245 396h1v1h-1zM251 396h1v1h-1zM253 396h1v2h-1zM136 397h1v2h-1zM181 397h7v1h-7zM203 397h1v2h-1zM216 397h1v1h-1zM245 397h7v1h-7zM186 398h1v2h-1zM214 398h2v1h-2zM246 398h1v2h-1zM254 398h1v2h-1zM135 399h1v1h-1zM148 399h1v1h-1zM190 399h1v1h-1zM200 399h1v1h-1zM204 399h1v1h-1zM213 399h1v1h-1zM107 400h6v1h-6zM123 400h5v1h-5zM131 400h4v1h-4zM147 400h2v1h-2zM191 400h5v1h-5zM199 400h2v1h-2zM204 400h6v1h-6zM212 400h6v1h-6zM238 400h4v1h-4zM247 400h4v1h-4zM255 400h5v1h-5zM259 401h1v1h-1zM258 402h1v2h-1zM255 404h3v1h-3z"/></g>
<g id="info5" fill="#000"><title>Radius: 3383.71 km</title><path d="M133 405h1v1h-1zM107 406h7v1h-7zM130 406h1v3h-1zM133 406h2v1h-2zM172 406h6v1h-6zM181 406h6v1h-6zM190 406h5v1h-5zM198 406h6v1h-6zM211 406h7v1h-7zM223 406h1v1h-1zM236 406h1v6h-1zM107 407h1v3h-1zM114 407h1v2h-1zM176 407h1v1h-1zM185 407h1v1h-1zM189 407h1v2h-1zM194 407h1v2h-1zM202 407h1v2h-1zM217 407h1v1h-1zM221 407h3v1h-3zM175 408h1v1h-1zM184 408h1v1h-1zM216 408h1v2h-1zM223 408h1v7h-1zM113 409h1v1h-1zM118 409h5v1h-5zM126 409h5v1h-5zM133 409h1v6h-1zM137 409h1v6h-1zM142 409h1v6h-1zM145 409h5v1h-5zM153 409h2v1h-2zM174 409h2v1h-2zM183 409h2v1h-2zM190 409h1v1h-1zM192 409h3v1h-3zM201 409h2v1h-2zM240 409h1v1h-1zM243 409h1v1h-1zM245 409h4v1h-4zM250 409h4v1h-4zM107 410h7v1h-7zM117 410h1v1h-1zM122 410h1v5h-1zM125 410h1v5h-1zM130 410h1v5h-1zM145 410h1v2h-1zM150 410h1v1h-1zM153 410h1v1h-1zM176 410h2v1h-2zM185 410h2v1h-2zM190 410h5v1h-5zM203 410h1v1h-1zM215 410h1v2h-1zM239 410h1v1h-1zM243 410h2v1h-2zM248 410h2v1h-2zM253 410h1v5h-1zM107 411h1v4h-1zM111 411h1v1h-1zM116 411h1v2h-1zM177 411h1v4h-1zM186 411h1v4h-1zM189 411h1v4h-1zM194 411h1v1h-1zM204 411h1v2h-1zM238 411h1v1h-1zM243 411h1v4h-1zM248 411h1v4h-1zM112 412h1v2h-1zM146 412h4v1h-4zM195 412h1v2h-1zM214 412h1v2h-1zM236 412h3v1h-3zM117 413h1v2h-1zM150 413h1v2h-1zM203 413h1v2h-1zM236 413h1v2h-1zM239 413h1v1h-1zM113 414h1v1h-1zM153 414h1v1h-1zM171 414h1v1h-1zM180 414h1v1h-1zM194 414h1v1h-1zM198 414h1v1h-1zM207 414h1v1h-1zM213 414h1v1h-1zM240 414h1v1h-1zM118 415h4v1h-4zM126 415h4v1h-4zM137 415h5v1h-5zM145 415h5v1h-5zM153 415h2v1h-2zM172 415h5v1h-5zM181 415h5v1h-5zM190 415h5v1h-5zM198 415h5v1h-5zM207 415h2v1h-2z"/></g>
<g id="info6" fill="#000"><title>Ls: 291.84 deg</title><path d="M107 421h1v9h-1zM170 421h5v1h-5zM179 421h4v1h-4zM190 421h1v1h-1zM201 421h5v1h-5zM213 421h1v1h-1zM230 421h1v3h-1zM169 422h1v2h-1zM175 422h1v2h-1zM178 422h1v4h-1zM183 422h1v4h-1zM188 422h3v1h-3zM200 422h1v2h-1zM205 422h1v2h-1zM212 422h2v2h-2zM190 423h1v7h-1zM115 424h5v1h-5zM122 424h2v1h-2zM174 424h1v1h-1zM201 424h5v2h-5zM211 424h1v1h-1zM213 424h1v3h-1zM226 424h5v1h-5zM234 424h4v1h-4zM242 424h5v1h-5zM114 425h1v1h-1zM119 425h1v1h-1zM123 425h1v1h-1zM173 425h1v2h-1zM210 425h1v2h-1zM225 425h1v1h-1zM230 425h1v5h-1zM233 425h1v2h-1zM238 425h1v2h-1zM241 425h1v5h-1zM246 425h1v5h-1zM115 426h1v1h-1zM179 426h1v1h-1zM182 426h2v1h-2zM200 426h1v4h-1zM205 426h1v1h-1zM224 426h1v2h-1zM116 427h4v1h-4zM172 427h1v1h-1zM180 427h2v1h-2zM183 427h1v2h-1zM206 427h1v2h-1zM209 427h6v1h-6zM233 427h6v1h-6zM119 428h1v2h-1zM171 428h1v1h-1zM213 428h1v2h-1zM225 428h1v2h-1zM233 428h1v2h-1zM123 429h1v1h-1zM170 429h1v1h-1zM182 429h1v1h-1zM196 429h1v1h-1zM205 429h1v1h-1zM107 430h6v1h-6zM115 430h5v1h-5zM122 430h2v1h-2zM169 430h6v1h-6zM179 430h4v1h-4zM196 430h2v1h-2zM201 430h5v1h-5zM226 430h4v1h-4zM234 430h4v1h-4zM242 430h5v1h-5zM246 431h1v2h-1zM245 433h2v1h-2zM243 434h2v1h-2z"/></g>
<g id="info7" fill="#000"><title>Local Time: 21.566 hr</title><path d="M157 435h1v1h-1zM107 436h1v9h-1zM140 436h1v9h-1zM149 436h6v1h-6zM157 436h2v1h-2zM194 436h5v1h-5zM205 436h1v1h-1zM216 436h6v1h-6zM226 436h4v1h-4zM235 436h4v1h-4zM249 436h1v4h-1zM152 437h1v8h-1zM194 437h1v2h-1zM199 437h1v2h-1zM203 437h3v1h-3zM216 437h1v2h-1zM225 437h1v2h-1zM230 437h1v1h-1zM234 437h1v2h-1zM239 437h1v1h-1zM205 438h1v7h-1zM116 439h4v1h-4zM124 439h4v1h-4zM132 439h5v1h-5zM157 439h1v6h-1zM161 439h5v1h-5zM167 439h4v1h-4zM175 439h4v1h-4zM182 439h2v1h-2zM198 439h1v3h-1zM216 439h5v1h-5zM224 439h1v2h-1zM227 439h2v1h-2zM233 439h1v2h-1zM236 439h2v1h-2zM251 439h4v1h-4zM258 439h3v1h-3zM115 440h1v1h-1zM120 440h1v5h-1zM123 440h1v5h-1zM128 440h1v1h-1zM131 440h1v5h-1zM136 440h1v5h-1zM161 440h2v1h-2zM166 440h2v1h-2zM171 440h1v5h-1zM174 440h1v2h-1zM179 440h1v2h-1zM183 440h1v1h-1zM216 440h1v1h-1zM221 440h1v5h-1zM226 440h1v1h-1zM229 440h1v1h-1zM235 440h1v1h-1zM238 440h1v1h-1zM249 440h2v1h-2zM254 440h1v5h-1zM258 440h1v5h-1zM114 441h1v2h-1zM161 441h1v4h-1zM166 441h1v4h-1zM224 441h2v1h-2zM230 441h1v4h-1zM233 441h2v1h-2zM239 441h1v4h-1zM249 441h1v4h-1zM174 442h6v1h-6zM197 442h1v1h-1zM224 442h1v1h-1zM233 442h1v1h-1zM115 443h1v2h-1zM174 443h1v2h-1zM195 443h2v1h-2zM225 443h1v2h-1zM234 443h1v2h-1zM183 444h1v1h-1zM194 444h1v1h-1zM212 444h1v1h-1zM216 444h1v1h-1zM107 445h6v1h-6zM116 445h4v1h-4zM124 445h4v1h-4zM132 445h4v1h-4zM175 445h4v1h-4zM182 445h2v1h-2zM193 445h6v1h-6zM211 445h2v1h-2zM216 445h5v1h-5zM226 445h4v1h-4zM235 445h4v1h-4z"/></g>
</svg>
</body></html>
